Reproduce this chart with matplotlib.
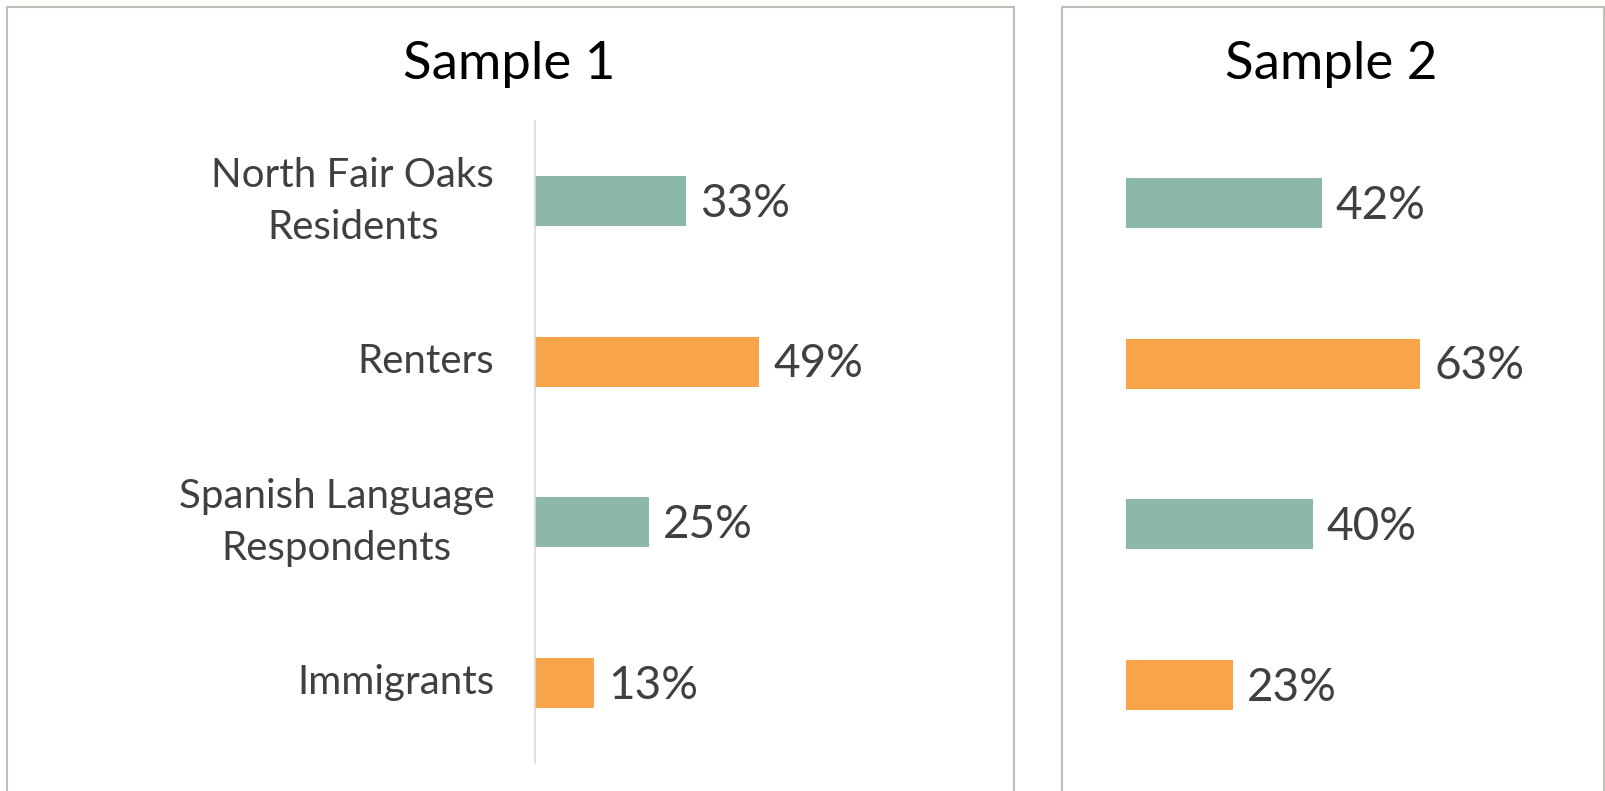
import matplotlib.pyplot as plt
from matplotlib.patches import Rectangle

# data
categories = ['North Fair Oaks\nResidents', 'Renters',
              'Spanish Language\nRespondents', 'Immigrants']
sample1 = [33, 49, 25, 13]
sample2 = [42, 63, 40, 23]
bar_colors = ['#8BB8A7', '#F8A44B', '#8BB8A7', '#F8A44B']
titles = ['Sample 1', 'Sample 2']

plt.rcParams['font.family'] = ['Lato', 'DejaVu Sans']
text_col = '#404040'

fig = plt.figure(figsize=(16.06, 7.91), dpi=100)
W, H = 1606, 791

# panel frames (pixel coords -> figure fraction)
for x0, x1 in [(7, 1014), (1062, 1604)]:
    fig.patches.append(Rectangle((x0 / W, -0.05), (x1 - x0) / W, (791 - 7) / H + 0.05,
                                 transform=fig.transFigure, fill=False,
                                 edgecolor='#BFBFB8', linewidth=1.5))

ax1 = fig.add_axes([534.6 / W, 0.0354, 367 / W, 0.8118])
ax2 = fig.add_axes([1125.6 / W, 0.0328, 374 / W, 0.8118])

for ax, vals in [(ax1, sample1), (ax2, sample2)]:
    y = range(len(categories))
    ax.barh(y, vals, height=0.31, color=bar_colors)
    for yi, v in zip(y, vals):
        ax.annotate(f'{v}%', (v, yi), xytext=(10, -2), textcoords='offset points',
                    va='center', ha='left', fontsize=33, color=text_col)
    ax.set_xlim(0, 80)
    ax.set_ylim(3.5, -0.5)
    ax.set_xticks([])
    for s in ['top', 'right', 'bottom']:
        ax.spines[s].set_visible(False)
    ax.tick_params(axis='y', length=0, pad=29)

ax1.spines['left'].set_color('#D9D9D9')
ax1.spines['left'].set_linewidth(1.2)
ax1.set_yticks(range(len(categories)))
ax1.set_yticklabels(categories, fontsize=29, color=text_col, ha='right', va='center',
                    multialignment='center', linespacing=1.5)
ax2.spines['left'].set_visible(False)
ax2.set_yticks([])

fig.text(509 / W, 1 - 64 / H, titles[0], ha='center', va='center', fontsize=38,
         color='black')
fig.text(1331 / W, 1 - 64 / H, titles[1], ha='center', va='center', fontsize=38,
         color='black')

fig.savefig('out.png', dpi=100)
